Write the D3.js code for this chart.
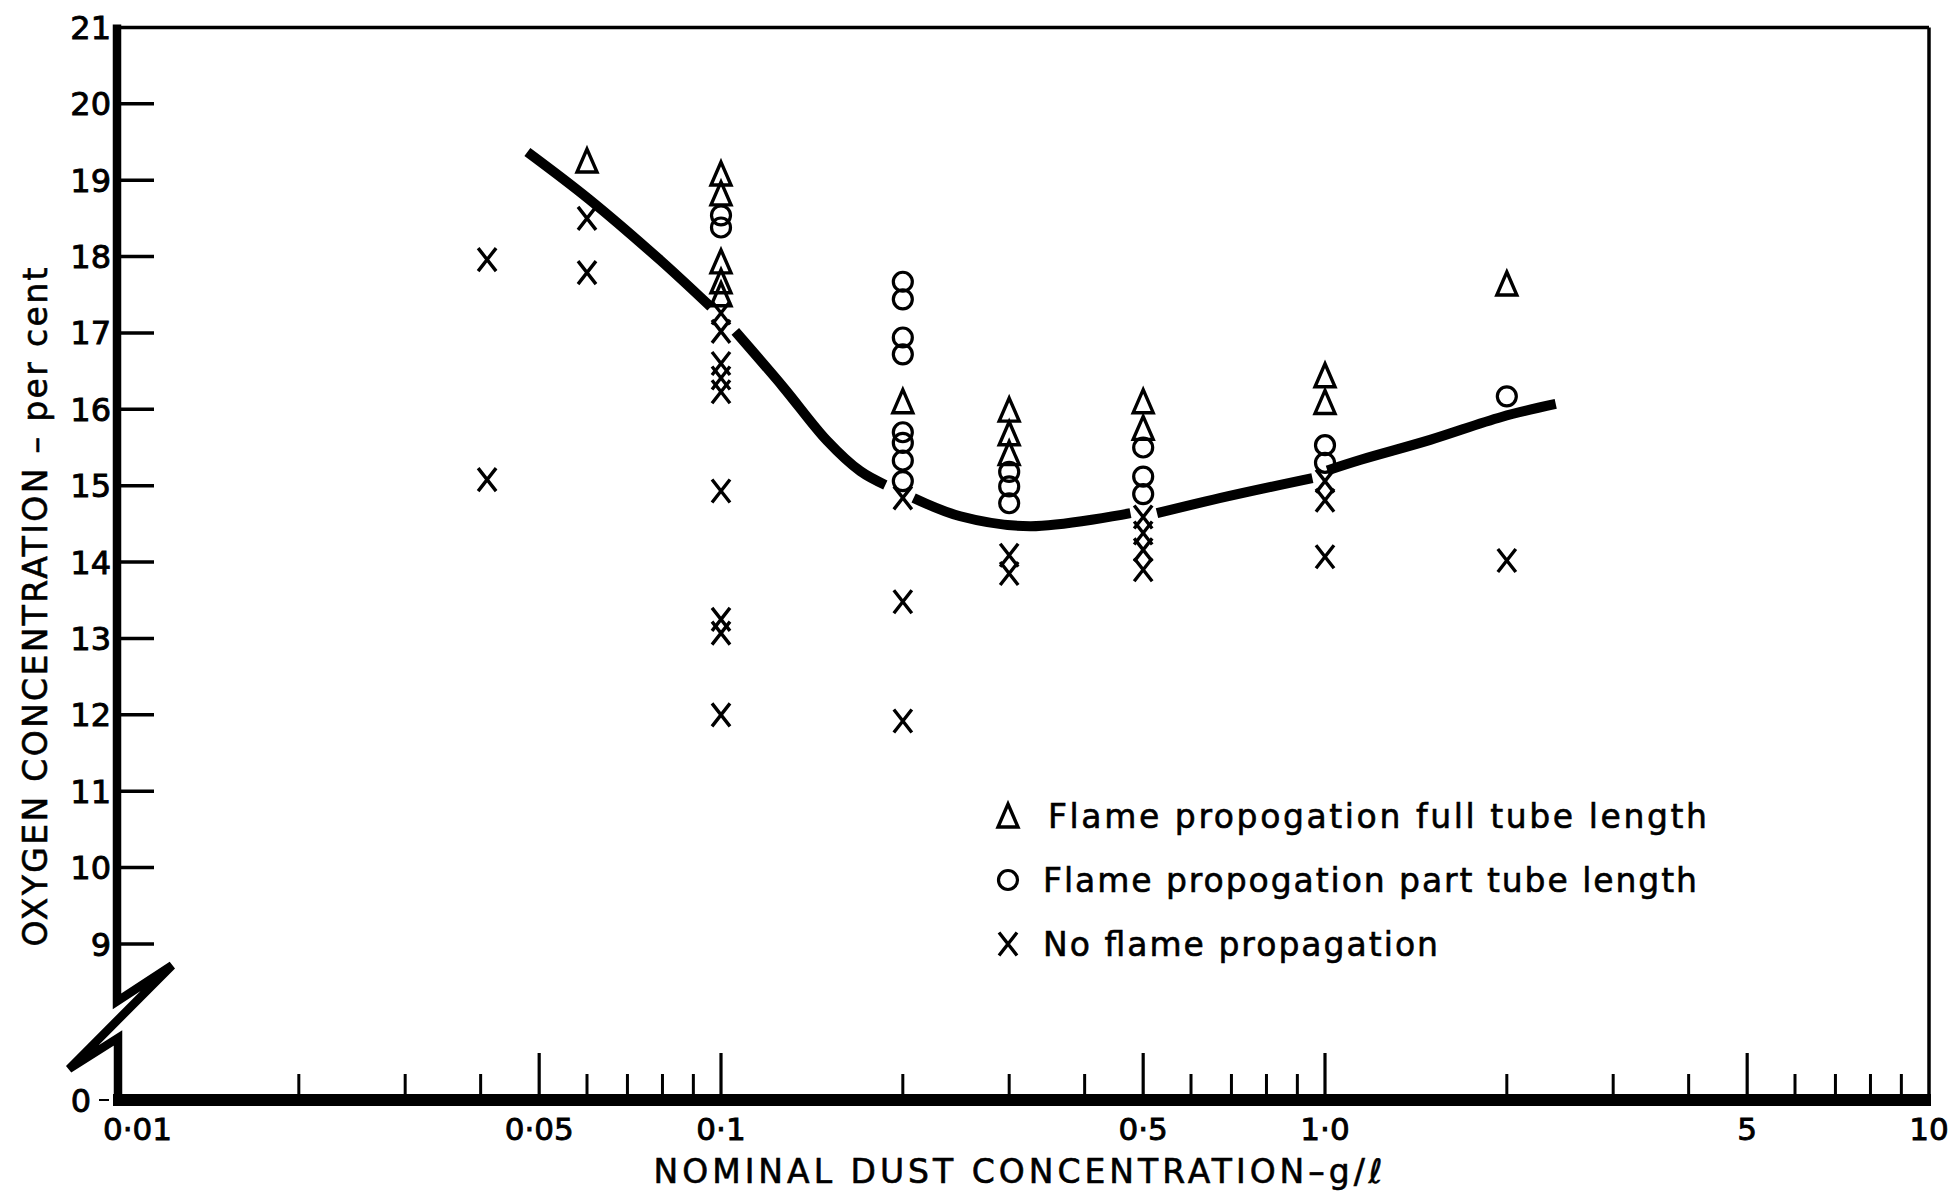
<!DOCTYPE html>
<html>
<head>
<meta charset="utf-8">
<script src="https://cdn.jsdelivr.net/npm/d3@7"></script>
<style>
  body { margin: 0; background: #fff; }
  text { fill: #000; font-family: "DejaVu Sans", sans-serif; }
</style>
</head>
<body>
<svg id="chart" width="1953" height="1191"></svg>
<script>

// y ticks above the axis break, and the x axis ticks (log scale)
var yTicks = [9, 10, 11, 12, 13, 14, 15, 16, 17, 18, 19, 20, 21];
var xMajor = [0.01, 0.05, 0.1, 0.5, 1, 5, 10];
var xLabels = ["0·01", "0·05", "0·1", "0·5", "1·0", "5", "10"];
var xMinor = [0.02, 0.03, 0.04, 0.06, 0.07, 0.08, 0.09, 0.2, 0.3, 0.4,
              0.6, 0.7, 0.8, 0.9, 2, 3, 4, 6, 7, 8, 9];

// flame propogation full tube length (triangles)
var fullX = [0.06, 0.1, 0.1, 0.1, 0.1, 0.1, 0.2, 0.3, 0.3, 0.3, 0.5, 0.5, 1, 1, 2];
var fullY = [19.25, 19.08, 18.82, 17.93, 17.67, 17.5, 16.1, 15.99, 15.68, 15.42, 16.1, 15.75, 16.44, 16.09, 17.64];

// flame propogation part tube length (circles)
var partX = [0.1, 0.1, 0.2, 0.2, 0.2, 0.2, 0.2, 0.2, 0.2, 0.2, 0.3, 0.3, 0.3, 0.5, 0.5, 0.5, 1, 1, 2];
var partY = [18.54, 18.38, 17.67, 17.44, 16.94, 16.72, 15.7, 15.56, 15.33, 15.06, 15.18, 14.99, 14.77, 15.5, 15.12, 14.89, 15.53, 15.3, 16.17];

// no flame propagation (crosses)
var noneX = [0.041, 0.041, 0.06, 0.06, 0.1, 0.1, 0.1, 0.1, 0.1, 0.1, 0.1, 0.1, 0.1,
             0.2, 0.2, 0.2, 0.3, 0.3, 0.5, 0.5, 0.5, 0.5, 1, 1, 1, 2];
var noneY = [17.96, 15.08, 18.5, 17.79, 17.26, 17.02, 16.6, 16.41, 16.23, 14.93, 13.25, 13.07, 12.0,
             14.84, 13.48, 11.92, 14.09, 13.85, 14.59, 14.38, 14.16, 13.9, 15.06, 14.81, 14.07, 14.02];

// limit curve, drawn by hand with gaps at the data columns (null = gap)
var curveX = [0.0478, 0.0605, 0.0794, 0.0962, null,
              0.1056, 0.1268, 0.1498, 0.1701, 0.1871, null,
              0.2084, 0.249, 0.325, 0.4764, null,
              0.527, 0.689, 0.953, null,
              1.009, 1.146, 1.493, 1.96, 2.41];
var curveY = [19.37, 18.75, 17.95, 17.34, null,
              17.02, 16.29, 15.59, 15.19, 15.01, null,
              14.84, 14.6, 14.47, 14.64, null,
              14.64, 14.86, 15.1, null,
              15.2, 15.34, 15.6, 15.9, 16.07];

var legendLabels = ["Flame propogation full tube length",
                    "Flame propogation part tube length",
                    "No flame propagation"];
var legendKinds = ["tri", "circ", "cross"];

var svg = d3.select("#chart");
var x = d3.scaleLog().domain([0.01, 10]).range([117, 1929]);
var y = d3.scaleLinear().domain([9, 21]).range([944, 27.4]);
var baseY = 1100;
var x0 = x(0.01);

function marker(g, kind) {
    if (kind === "tri") {
        g.append("path").attr("d", "M0,-12L10,11L-10,11Z")
            .attr("fill", "none").attr("stroke", "#000").attr("stroke-width", 3.4)
            .attr("stroke-linejoin", "miter");
    } else if (kind === "circ") {
        g.append("circle").attr("r", 9.5)
            .attr("fill", "none").attr("stroke", "#000").attr("stroke-width", 3.2);
    } else {
        g.append("path").attr("d", "M-9,-11.5L9,11.5M9,-11.5L-9,11.5")
            .attr("fill", "none").attr("stroke", "#000").attr("stroke-width", 3.4);
    }
}

// frame: top and right thin lines
svg.append("line")
    .attr("x1", x0).attr("x2", x(10)).attr("y1", y(21)).attr("y2", y(21))
    .attr("stroke", "#000").attr("stroke-width", 3.5);
svg.append("line")
    .attr("x1", x(10)).attr("x2", x(10)).attr("y1", y(21)).attr("y2", baseY)
    .attr("stroke", "#000").attr("stroke-width", 3.5);

// y axis with the break
svg.append("path")
    .attr("d", "M" + x0 + "," + (y(21) - 3) + "L" + x0 + "," + y(8.25) +
               "L" + (x0 + 55) + "," + y(8.72) +
               "L" + (x0 - 48) + "," + (baseY - 31) +
               "L" + (x0 + 1) + "," + (baseY - 62) +
               "L" + (x0 + 1) + "," + (baseY + 6))
    .attr("fill", "none").attr("stroke", "#000").attr("stroke-width", 8.5)
    .attr("stroke-linejoin", "miter").attr("stroke-miterlimit", 6);

// y ticks and labels
svg.selectAll(".ytick").data(yTicks.slice(0, -1)).enter().append("line")
    .attr("class", "ytick")
    .attr("x1", x0).attr("x2", x0 + 37)
    .attr("y1", d => y(d)).attr("y2", d => y(d))
    .attr("stroke", "#000").attr("stroke-width", 3.5);
svg.selectAll(".ylab").data(yTicks).enter().append("text")
    .attr("class", "ylab")
    .attr("x", x0 - 6).attr("y", d => y(d)).attr("dy", "0.36em")
    .attr("text-anchor", "end").attr("font-size", 32)
    .attr("stroke", "#000").attr("stroke-width", 0.9)
    .text(d => d);
svg.append("text")
    .attr("x", x0 - 26).attr("y", baseY).attr("dy", "0.36em")
    .attr("text-anchor", "end").attr("font-size", 32)
    .attr("stroke", "#000").attr("stroke-width", 0.9)
    .text("0");
svg.append("line")
    .attr("x1", x0 - 18).attr("x2", x0 - 8).attr("y1", baseY).attr("y2", baseY)
    .attr("stroke", "#000").attr("stroke-width", 2);

// x axis
svg.append("line")
    .attr("x1", x0 - 4).attr("x2", x(10) + 2).attr("y1", baseY).attr("y2", baseY)
    .attr("stroke", "#000").attr("stroke-width", 12);
svg.selectAll(".xmin").data(xMinor).enter().append("line")
    .attr("class", "xmin")
    .attr("x1", d => x(d)).attr("x2", d => x(d))
    .attr("y1", baseY).attr("y2", baseY - 26)
    .attr("stroke", "#000").attr("stroke-width", 3);
svg.selectAll(".xmaj").data(xMajor.slice(1, -1)).enter().append("line")
    .attr("class", "xmaj")
    .attr("x1", d => x(d)).attr("x2", d => x(d))
    .attr("y1", baseY).attr("y2", baseY - 47)
    .attr("stroke", "#000").attr("stroke-width", 3.2);
svg.selectAll(".xlab").data(xMajor).enter().append("text")
    .attr("class", "xlab")
    .attr("x", (d, i) => i === 0 ? x(d) - 14 : x(d))
    .attr("y", 1140)
    .attr("text-anchor", (d, i) => i === 0 ? "start" : "middle")
    .attr("font-size", 31)
    .attr("stroke", "#000").attr("stroke-width", 0.9)
    .text((d, i) => xLabels[i]);

// axis titles
svg.append("text")
    .attr("x", 1018).attr("y", 1183)
    .attr("text-anchor", "middle").attr("font-size", 33)
    .attr("stroke", "#000").attr("stroke-width", 0.6)
    .attr("textLength", 729).attr("lengthAdjust", "spacing")
    .text("NOMINAL DUST CONCENTRATION–g/ℓ");
svg.append("text")
    .attr("transform", "translate(47,607) rotate(-90)")
    .attr("text-anchor", "middle").attr("font-size", 33)
    .attr("stroke", "#000").attr("stroke-width", 0.6)
    .attr("textLength", 679).attr("lengthAdjust", "spacing")
    .text("OXYGEN CONCENTRATION – per cent");

// limit curve
var curvePts = curveX.map((d, i) => [d, curveY[i]]);
svg.append("path")
    .datum(curvePts)
    .attr("d", d3.line()
        .defined(d => d[0] !== null)
        .x(d => x(d[0])).y(d => y(d[1]))
        .curve(d3.curveCatmullRom))
    .attr("fill", "none").attr("stroke", "#000").attr("stroke-width", 10)
    .attr("stroke-linecap", "butt");

// data markers
function plotSeries(xs, ys, kind) {
    var pts = xs.map((d, i) => ({ x: d, y: ys[i] }));
    svg.selectAll(".m-" + kind).data(pts).enter().append("g")
        .attr("class", "m-" + kind)
        .attr("transform", d => "translate(" + x(d.x) + "," + y(d.y) + ")")
        .each(function () { marker(d3.select(this), kind); });
}
plotSeries(fullX, fullY, "tri");
plotSeries(partX, partY, "circ");
plotSeries(noneX, noneY, "cross");

// legend
var legRowY = [816, 880, 944];
var legTextX = [1048, 1043, 1043];
var legLen = [659, 654, 395];
legendLabels.forEach(function (lab, i) {
    var g = svg.append("g").attr("transform", "translate(1008," + legRowY[i] + ")");
    marker(g, legendKinds[i]);
    svg.append("text")
        .attr("x", legTextX[i]).attr("y", legRowY[i] + 12)
        .attr("font-size", 33)
        .attr("stroke", "#000").attr("stroke-width", 0.6)
        .attr("textLength", legLen[i]).attr("lengthAdjust", "spacing")
        .text(lab);
});

</script>
</body>
</html>
